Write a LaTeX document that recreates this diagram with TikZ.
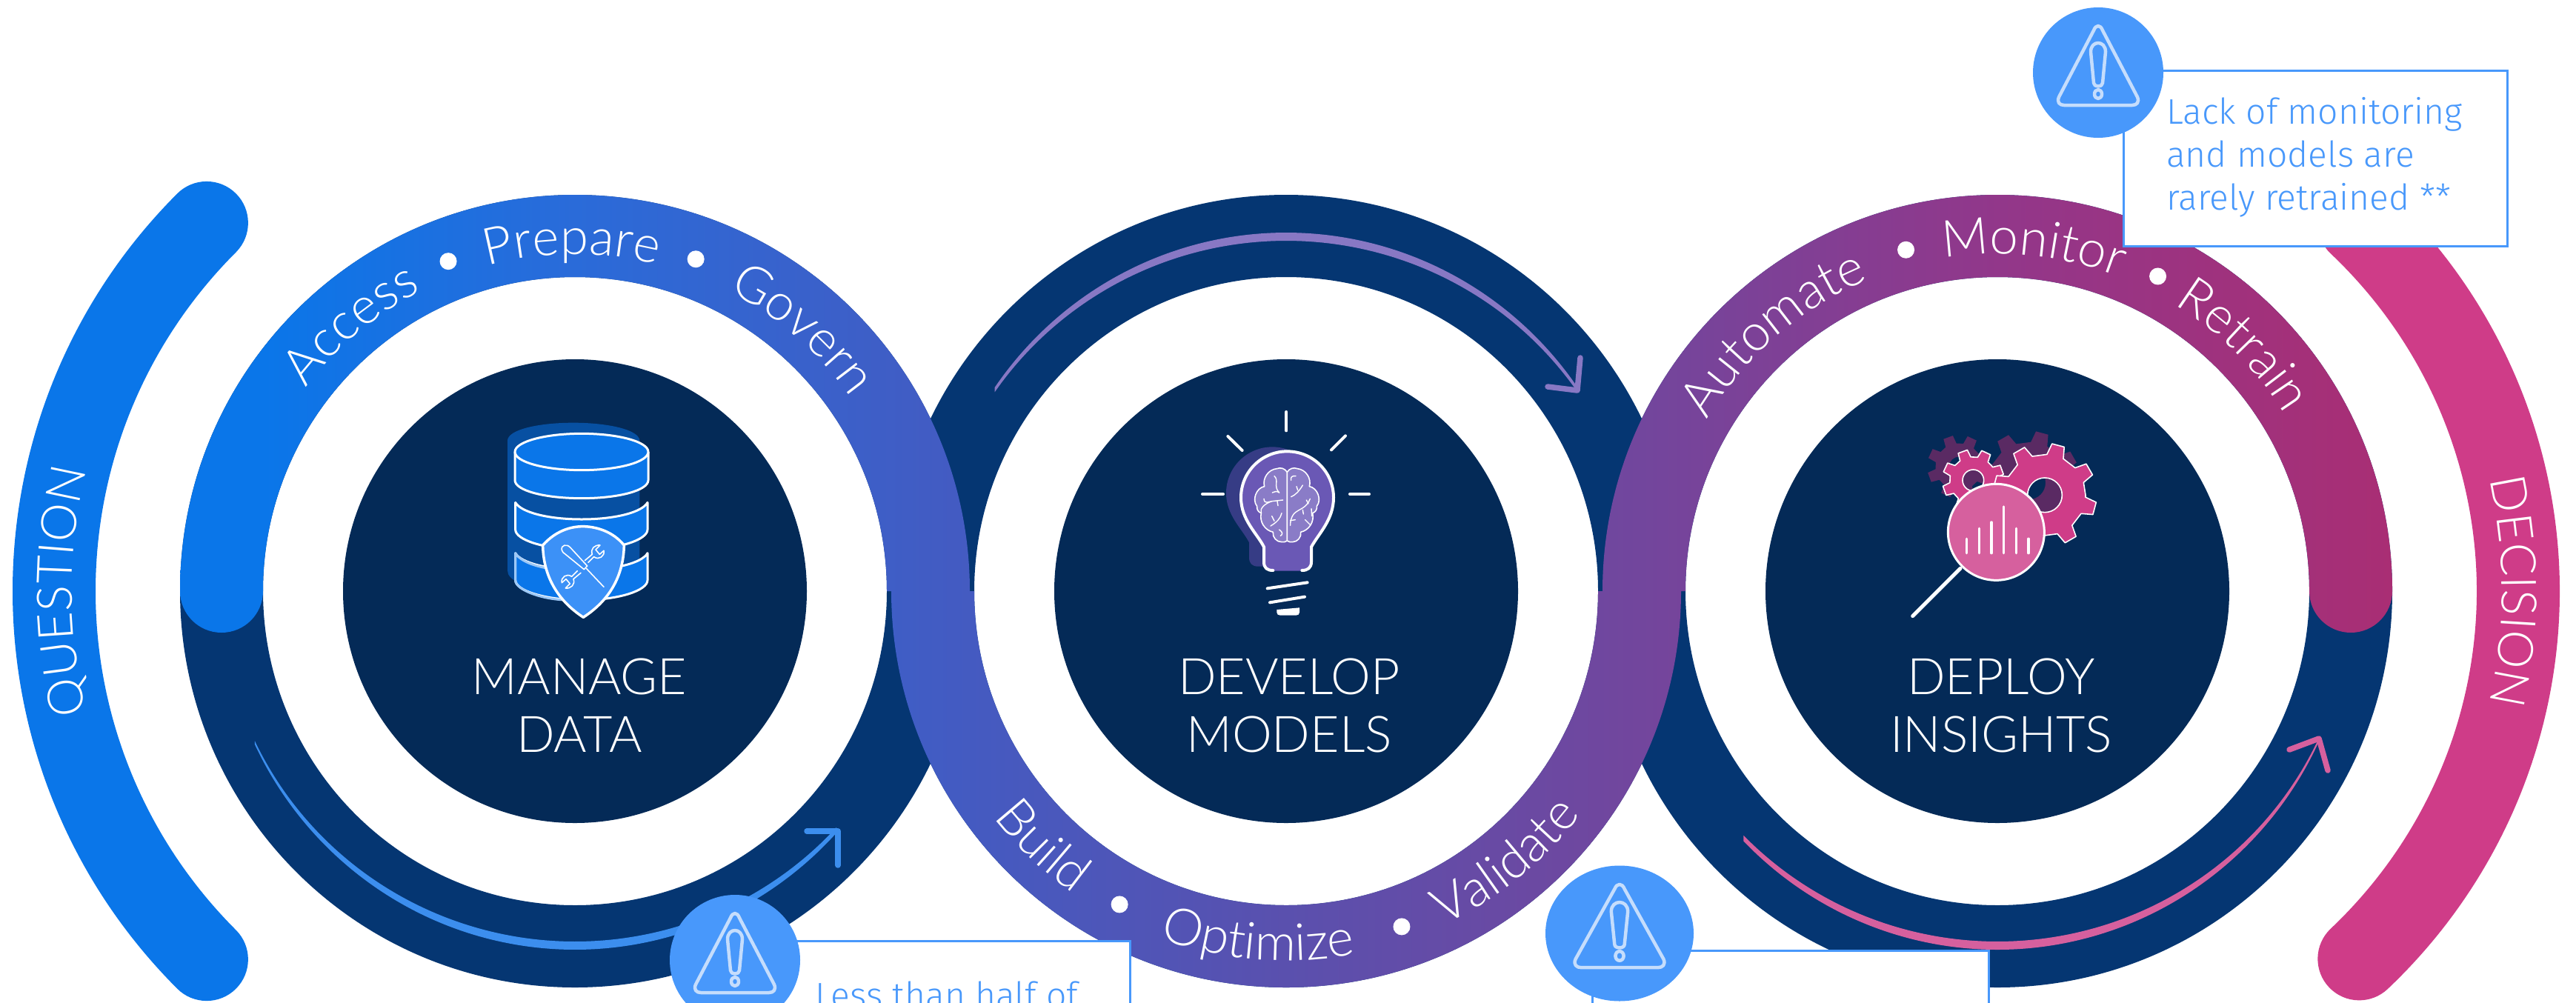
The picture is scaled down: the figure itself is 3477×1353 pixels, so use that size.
\documentclass[tikz,border=0pt]{standalone}
\usepackage{fontspec}
\usetikzlibrary{decorations.text,calc}
\newfontfamily\lightf{Lato Light}
\newfontfamily\boxf{Fira Sans Light}
\newcommand\ringf{\lightf\fontsize{69}{69}\selectfont}
\newcommand\sidef{\lightf\fontsize{66}{66}\selectfont}
\definecolor{dkcircle}{HTML}{042A57}
\definecolor{navyring}{HTML}{053672}
\definecolor{qblue}{HTML}{0A76E9}
\definecolor{dpink}{HTML}{CF3C88}
\definecolor{alert}{HTML}{4898FB}
\definecolor{alertln}{HTML}{C5DDFC}
\definecolor{arrblue}{HTML}{3C8EEE}
\definecolor{arrpurple}{HTML}{8878C4}
\definecolor{arrpink}{HTML}{D6609E}
\definecolor{bulbfill}{HTML}{6A58B5}
\definecolor{bulbshade}{HTML}{363C85}
\definecolor{brainfill}{HTML}{8A7CC7}
\definecolor{gearshade}{HTML}{5A2A63}
\definecolor{gA}{HTML}{0A76E9}
\definecolor{gB}{HTML}{2A6BD9}
\definecolor{gC}{HTML}{435BC2}
\definecolor{gD}{HTML}{5A50AE}
\definecolor{gE}{HTML}{72469D}
\definecolor{gF}{HTML}{92378A}
\definecolor{gG}{HTML}{A92E74}
\pgfdeclarehorizontalshading{sflow}{100bp}{color(0bp)=(gA); color(26.9bp)=(gA); color(33.9bp)=(gB); color(42.5bp)=(gC); color(50bp)=(gD); color(58bp)=(gE); color(66.1bp)=(gF); color(75bp)=(gG); color(100bp)=(gG)}
\tikzset{
  sidearc/.style={line width=112pt,line cap=round},
  chev/.style={line width=7.5pt,line cap=round,line join=round},
  warnbox/.style={draw=alert,line width=3pt,fill=white},
  warnline/.style={draw=alertln,line width=4.5pt,line join=round},
  icl/.style={draw=white,line cap=round,line join=round},
  warn/.pic={
    \draw[warnline] (-6,-57) .. controls (-3,-65) and (3,-65) .. (6,-57) -- (53,33) .. controls (56,40) and (52,44) .. (46,44) -- (-46,44) .. controls (-52,44) and (-56,40) .. (-53,33) -- cycle;
    \draw[warnline] (-10,-28) .. controls (-10,-44) and (10,-44) .. (10,-28) -- (6,14) .. controls (6,20) and (-6,20) .. (-6,14) -- cycle;
    \draw[warnline] (0,29) circle [x radius=5,y radius=6];
  }
}
\newcommand\arcword[6]{\path[decorate,decoration={text along path,text color=white,text={|\ringf|#6},text align=center}] (#1,#2) ++(#4-#5:#3) arc[start angle=#4-#5,end angle=#4+#5,radius=#3];}
\newcommand\sideword[6]{\path[decorate,decoration={text along path,text color=white,text={|\sidef|#6},text align=center}] (#1,#2) ++(#4-#5:#3) arc[start angle=#4-#5,end angle=#4+#5,radius=#3];}
\newcommand\taper[5]{\fill[#5,shift={(#1,#2)}] (#3:478 and 484) arc[start angle=#3,end angle=#4,x radius=478,y radius=484] -- (#4:478 and 473) arc[start angle=#4,end angle=#3,x radius=478,y radius=473] -- cycle;}
\newcommand\gearp[4]{%
  (#4-#3-5:#1) \foreach \k in {0,...,7}{ -- ({#4+\k*45-#3-2}:#1) -- ({#4+\k*45-#3+3}:#2) -- ({#4+\k*45+#3-3}:#2) -- ({#4+\k*45+#3+2}:#1)} -- cycle}
\newcommand\navyband[1]{\fill[navyring,even odd rule] (#1,798) ellipse [x radius=533,y radius=535] (#1,798) ellipse [x radius=421,y radius=424];}
\begin{document}
\begin{tikzpicture}[x=1pt,y=-1pt]
\useasboundingbox (0,0) rectangle (3477,1353);
\clip (0,0) rectangle (3477,1353);
\def\cA{776}\def\cB{1736}\def\cC{2696}\def\cy{798}
% side arcs
\draw[sidearc,draw=qblue] (\cA,\cy) ++(135:703) arc[start angle=135,end angle=225,radius=703];
\draw[sidearc,draw=dpink] (\cC,\cy) ++(-46:703 and 690) arc[start angle=-46,end angle=46,x radius=703,y radius=690];
\sideword{\cA}{\cy}{679}{180}{40}{QUESTION}
\sideword{\cC}{\cy}{681}{0}{40}{DECISION}
% navy rings
\navyband{\cA}
\navyband{\cB}
\navyband{\cC}
% flowing gradient band
\path[shading=sflow,shade] (243,\cy) arc[start angle=180,end angle=360,x radius=533,y radius=535] -- (1315,\cy)
   arc[start angle=180,end angle=0,x radius=421,y radius=424] -- (2163,\cy)
   arc[start angle=180,end angle=360,x radius=533,y radius=535]
   arc[start angle=0,end angle=180,radius=56]
   arc[start angle=360,end angle=180,x radius=421,y radius=424] -- (2269,\cy)
   arc[start angle=0,end angle=180,x radius=533,y radius=535] -- (1197,\cy)
   arc[start angle=360,end angle=180,x radius=421,y radius=424]
   arc[start angle=0,end angle=180,radius=56] -- cycle;
% inner discs
\fill[dkcircle] (\cA,\cy) circle [radius=313];
\fill[dkcircle] (\cB,\cy) circle [radius=313];
\fill[dkcircle] (\cC,\cy) circle [radius=313];
% flow arrows
\taper{\cA}{\cy}{154.7}{42.4}{arrblue}
\draw[chev,draw=arrblue] (1089,1122) -- (1131,1122) -- (1131,1168);
\taper{\cB}{\cy}{214.6}{325.4}{arrpurple}
\draw[chev,draw=arrpurple] (2133,483) -- (2129,527) -- (2089,522);
\taper{\cC}{\cy}{135.8}{24.6}{arrpink}
\draw[chev,draw=arrpink] (3090,1012) -- (3130,997) -- (3142,1040);
% ring words
\arcword{\cA}{\cy}{455}{230}{40}{Access}
\arcword{\cA}{\cy}{455}{269.5}{40}{Prepare}
\arcword{\cA}{\cy}{455}{311}{40}{Govern}
\arcword{\cB}{\cy}{499}{133.7}{-40}{Build}
\arcword{\cB}{\cy}{499}{94.6}{-40}{Optimize}
\arcword{\cB}{\cy}{499}{51}{-40}{Validate}
\arcword{\cC}{\cy}{455}{229}{40}{Automate}
\arcword{\cC}{\cy}{455}{276}{40}{Monitor}
\arcword{\cC}{\cy}{455}{315}{40}{Retrain}
\fill[white] (\cA,\cy) ++(249:477) circle [radius=11.5];
\fill[white] (\cA,\cy) ++(290:477) circle [radius=11.5];
\fill[white] (\cB,\cy) ++(118:479) circle [radius=11.5];
\fill[white] (\cB,\cy) ++(71:479) circle [radius=11.5];
\fill[white] (\cC,\cy) ++(255:477) circle [radius=11.5];
\fill[white] (\cC,\cy) ++(297:477) circle [radius=11.5];
% titles
\node[text=white,font=\lightf\fontsize{68}{78}\selectfont,align=center,inner sep=0pt] (tA) at (782,952) {MANAGE\\DATA};
\node[text=white,font=\lightf\fontsize{68}{78}\selectfont,align=center,inner sep=0pt] (tB) at (1740,952) {DEVELOP\\MODELS};
\node[text=white,font=\lightf\fontsize{68}{78}\selectfont,align=center,inner sep=0pt] (tC) at (2701,952) {DEPLOY\\INSIGHTS};
% database icon
\begin{scope}[shift={(600,500)},x=1/3*1pt,y=-1/3*1pt]
\fill[navyring!60!qblue] (255,285) .. controls (255,240) and (380,212) .. (522,212) .. controls (660,212) and (790,240) .. (790,285) -- (790,800) -- (300,860) .. controls (270,845) and (255,830) .. (255,810) -- cycle;
\begin{scope}[line width=3pt,icl]
\filldraw[fill=qblue] (285,330) -- (285,445) .. controls (285,485) and (400,518) .. (555,518) .. controls (710,518) and (825,485) .. (825,445) -- (825,330) -- cycle;
\filldraw[fill=qblue] (555,330) ellipse [x radius=270,y radius=74];
\filldraw[fill=qblue] (287,535) .. controls (310,575) and (420,603) .. (555,603) .. controls (690,603) and (800,575) .. (822,535) -- (822,645) .. controls (822,685) and (710,725) .. (555,725) .. controls (400,725) and (287,685) .. (287,645) -- cycle;
\filldraw[fill=qblue] (287,740) .. controls (310,780) and (420,808) .. (555,808) .. controls (690,808) and (800,780) .. (822,740) -- (822,850) .. controls (822,890) and (710,930) .. (555,930) .. controls (400,930) and (287,890) .. (287,850) -- cycle;
\draw[draw=qblue!40!white] (500,808) .. controls (400,808) and (310,780) .. (287,740) -- (287,850) .. controls (287,890) and (400,930) .. (500,930);
\filldraw[fill=alert!80!qblue,line width=3.5pt] (398,708) .. controls (450,650) and (510,632) .. (560,632) .. controls (610,632) and (680,650) .. (727,708) .. controls (725,830) and (670,930) .. (562,1000) .. controls (455,930) and (400,830) .. (398,708) -- cycle;
\begin{scope}[line width=1.6pt]
\draw (475,728) .. controls (470,708) and (495,700) .. (510,718) -- (578,792) -- (565,806) -- (490,745) .. controls (482,740) and (477,735) .. (475,728) -- cycle;
\draw (574,802) -- (645,877);
\draw (568,770) -- (598,745) .. controls (590,722) and (608,706) .. (630,708) -- (612,726) -- (628,745) -- (645,730) .. controls (650,752) and (625,770) .. (605,755) -- (582,778);
\draw (552,820) -- (522,845) .. controls (530,868) and (512,884) .. (490,882) -- (508,864) -- (492,845) -- (475,860) .. controls (470,838) and (495,820) .. (515,835) -- (538,812);
\end{scope}
\end{scope}
\end{scope}
% bulb icon
\begin{scope}[shift={(1550,520)},x=1/3*1pt,y=-1/3*1pt]
\def\bulbpath{(468,655) .. controls (440,600) and (375,545) .. (375,455) .. controls (375,350) and (460,268) .. (562,268) .. controls (665,268) and (750,350) .. (750,455) .. controls (750,545) and (690,600) .. (660,655) -- (660,715) .. controls (660,740) and (645,752) .. (622,752) -- (505,752) .. controls (480,752) and (468,740) .. (468,715) -- cycle}
\fill[bulbshade,shift={(-60,-18)}] \bulbpath;
\fill[bulbfill] \bulbpath;
\draw[icl,line width=4pt] (505,750) .. controls (480,750) and (468,740) .. (468,715) -- (468,655) .. controls (440,600) and (375,545) .. (375,455) .. controls (375,350) and (460,268) .. (562,268) .. controls (665,268) and (750,350) .. (750,455) .. controls (750,545) and (690,600) .. (660,655) -- (660,715) .. controls (660,740) and (645,750) .. (622,750);
\draw[icl,line width=4pt] (559,108) -- (559,184);
\draw[icl,line width=4pt] (219,441) -- (303,441);
\draw[icl,line width=4pt] (816,441) -- (894,441);
\draw[icl,line width=4pt] (322,207) -- (380,264);
\draw[icl,line width=4pt] (798,205) -- (741,262);
\draw[icl,line width=4pt] (482,823) -- (644,799);
\draw[icl,line width=4pt] (492,880) -- (633,857);
\fill[white] (520,909) -- (612,901) -- (612,920) .. controls (612,928) and (606,932) .. (598,932) -- (534,932) .. controls (526,932) and (520,928) .. (520,920) -- cycle;
\filldraw[fill=brainfill,draw=white,line width=1.6pt,line join=round]
 (562,352) to[bend right=40] (520,338) to[bend right=50] (470,410) to[bend right=60] (440,490) to[bend right=40] (457,518) to[bend right=45] (505,595) to[bend right=50] (540,635) to[bend right=20] (562,630) -- cycle;
\filldraw[fill=brainfill,draw=white,line width=1.6pt,line join=round]
 (562,352) to[bend left=40] (604,338) to[bend left=50] (652,410) to[bend left=60] (682,490) to[bend left=40] (665,518) to[bend left=45] (617,595) to[bend left=50] (584,635) to[bend left=20] (562,630) -- cycle;
\begin{scope}[icl,line width=1.4pt]
\draw (510,368) .. controls (530,385) and (505,410) .. (530,435);
\draw (502,435) .. controls (510,430) and (520,428) .. (530,435);
\draw (468,460) .. controls (470,485) and (490,470) .. (500,470) .. controls (470,480) and (450,500) .. (457,518);
\draw (500,470) -- (545,465);
\draw (522,470) -- (525,488);
\draw (495,570) .. controls (520,555) and (535,540) .. (540,518);
\draw (500,530) -- (510,550);
\draw (530,585) .. controls (545,595) and (545,605) .. (535,610);
\draw (597,368) .. controls (580,365) and (575,375) .. (578,385);
\draw (625,405) .. controls (610,430) and (595,445) .. (578,452);
\draw (600,410) -- (605,425);
\draw (655,460) .. controls (640,500) and (610,500) .. (590,520) .. controls (575,540) and (575,555) .. (575,568);
\draw (640,465) -- (648,480);
\draw (625,505) -- (628,522);
\draw (575,548) -- (595,545);
\draw (635,545) -- (655,565);
\draw (660,500) -- (662,530);
\end{scope}
\end{scope}
% gears icon
\begin{scope}[shift={(2540,540)},x=1/3*1pt,y=-1/3*1pt]
\fill[gearshade,even odd rule,shift={(312,270)}] \gearp{95}{128}{12}{-20} (0,0) circle [radius=40];
\fill[gearshade,even odd rule,shift={(595,335)}] \gearp{165}{210}{10}{15} (0,0) circle [radius=68];
\filldraw[fill=dpink,draw=white,line width=1.6pt,line join=round,even odd rule,shift={(370,325)}] \gearp{95}{125}{12}{-20} (0,0) circle [radius=43];
\filldraw[fill=dpink,draw=white,line width=1.6pt,line join=round,even odd rule,shift={(660,385)}] \gearp{165}{210}{10}{15} (0,0) circle [radius=70];
\filldraw[fill=arrpink,draw=white,line width=3pt] (463,535) circle [radius=195];
\draw[icl,line width=5pt] (318,682) -- (125,875);
\foreach \bx/\by in {344/562,394/520,444/495,494/432,544/520,594/562}{\draw[icl,line width=3.5pt] (\bx,\by) -- (\bx,620);}
\end{scope}
% callouts
\draw[warnbox] (1030,1270) rectangle (1525,1420);
\node[font=\boxf\fontsize{48}{58}\selectfont,text=alert,anchor=base west,inner sep=0pt] (tL) at (1100,1360) {Less than half of};
\fill[alert] (992,1296) circle [radius=88];
\pic at (992,1296) {warn};
\draw[warnbox] (2149,1283) rectangle (2684,1420);
\fill[alert] (2186,1260) ellipse [x radius=100,y radius=91.5];
\pic[xscale=1.12,yscale=1.05] at (2186,1260) {warn};
\draw[warnbox] (2866,95) rectangle (3384,332);
\node[font=\boxf\fontsize{48}{58}\selectfont,text=alert,anchor=north west,inner sep=0pt,align=left] (tR) at (2924,131) {Lack of monitoring\\and models are\\rarely retrained **};
\fill[alert] (2832,98) circle [radius=88];
\pic at (2832,98) {warn};
\end{tikzpicture}
\end{document}
